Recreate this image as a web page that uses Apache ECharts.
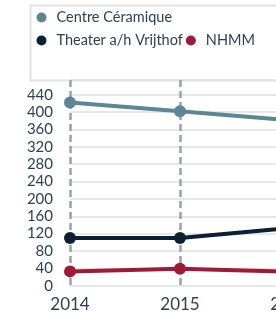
<!DOCTYPE html>
<html>
<head>
<meta charset="utf-8">
<style>
html,body{margin:0;padding:0;background:#fff;overflow:hidden;width:276px;height:313px;}
#chart{position:absolute;left:0;top:0;width:420px;height:313px;}
</style>
<script src="https://cdn.jsdelivr.net/npm/echarts@6/dist/echarts.min.js"></script>
</head>
<body>
<div id="chart"></div>
<script>
const years = ['2014', '2015', '2016'];
const centreCeramique = [422, 402, 381];
const theaterVrijthof = [110, 110, 133];
const nhmm = [33, 39, 32];
const yTicks = { min: 0, max: 474, interval: 40 };

const FONT = 'Lato';
const TXT = '#2e3f52';

function lineSeries(name, data, color) {
  return {
    name: name, type: 'line', data: data,
    symbol: 'circle', symbolSize: 12,
    lineStyle: { color: color, width: 4 },
    itemStyle: { color: color },
    emphasis: { disabled: true },
    animation: false
  };
}

const chart = echarts.init(document.getElementById('chart'), null, { renderer: 'canvas' });
const legendCommon = {
  orient: 'horizontal', left: 36.5, padding: 0, itemGap: 3,
  icon: 'circle', itemWidth: 20, itemHeight: 10,
  selectedMode: false,
  textStyle: { fontFamily: FONT, fontSize: 14.5, color: TXT }
};
chart.setOption({
  animation: false,
  graphic: [{
    type: 'rect', left: 28, top: 3,
    shape: { width: 420, height: 75 },
    style: { fill: 'none', stroke: '#e2e2e2', lineWidth: 2 },
    z: -1
  }],
  legend: [
    Object.assign({}, legendCommon, { top: 10, data: ['Centre Céramique'] }),
    Object.assign({}, legendCommon, { top: 33, data: ['Theater a/h Vrijthof', 'NHMM'] })
  ],
  grid: { left: 70, top: 80, width: 220, height: 205.7, containLabel: false },
  xAxis: {
    type: 'category', data: years, boundaryGap: false,
    axisLine: { show: false }, axisTick: { show: false },
    axisLabel: { fontFamily: FONT, fontSize: 17, color: TXT, margin: 10 },
    splitLine: { show: true, lineStyle: { color: '#9ba1ac', width: 2.5, type: [7, 4] } }
  },
  yAxis: {
    type: 'value', min: yTicks.min, max: yTicks.max, interval: yTicks.interval,
    axisLine: { show: false }, axisTick: { show: false },
    axisLabel: { fontFamily: FONT, fontSize: 15, color: TXT, margin: 17, showMaxLabel: false },
    splitLine: { show: true, lineStyle: { color: '#e0e0e0', width: 1.5 } }
  },
  series: [
    lineSeries('Centre Céramique', centreCeramique, '#5b8795'),
    lineSeries('Theater a/h Vrijthof', theaterVrijthof, '#0b1f35'),
    lineSeries('NHMM', nhmm, '#a01a37')
  ]
});
</script>
</body>
</html>
